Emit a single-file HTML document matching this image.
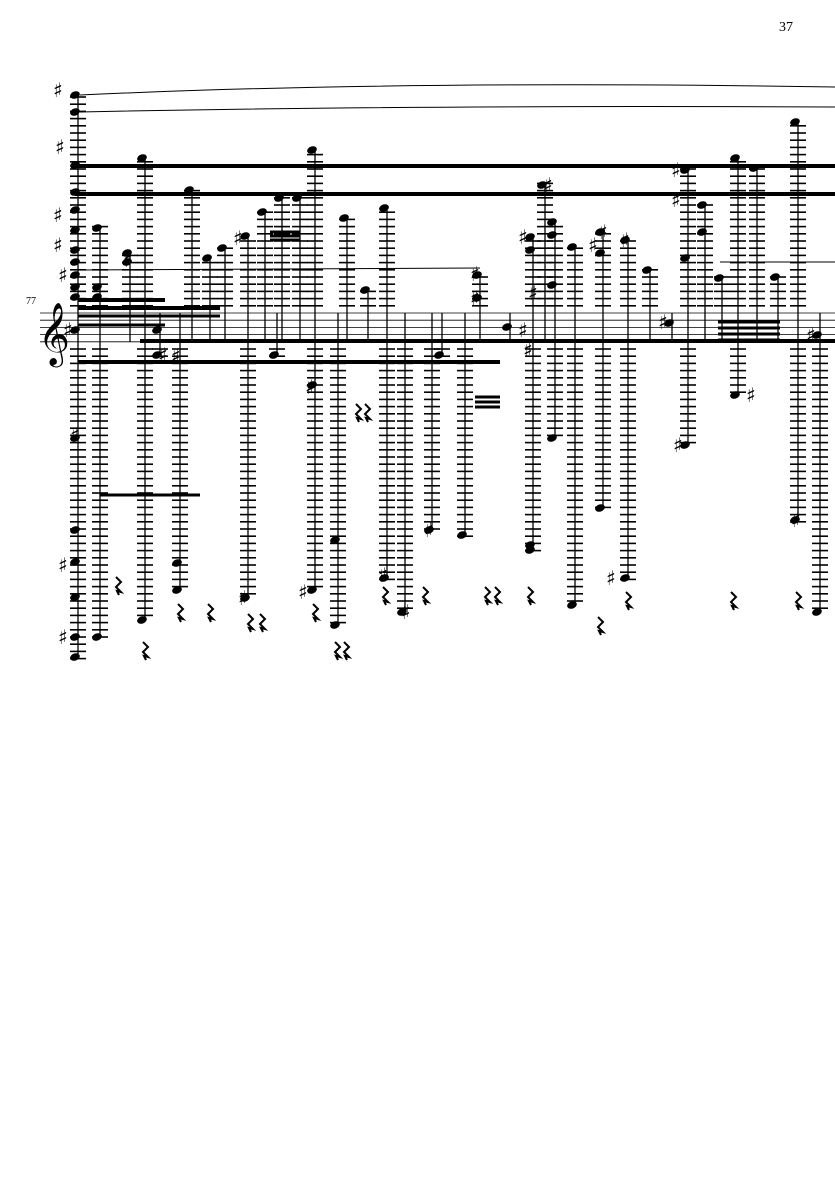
<!DOCTYPE html><html><head><style>body{margin:0;background:#fff}svg{display:block}</style></head><body>
<svg id="s" width="835" height="1181" xmlns="http://www.w3.org/2000/svg">
<text x="779" y="31" font-family="Liberation Serif,serif" font-size="14">37</text>
<text x="26" y="304" font-family="Liberation Serif,serif" font-size="10">77</text>
<text x="38" y="352" font-family="DejaVu Serif,serif" font-size="54">𝄞</text>
</svg>
<script>
(function(){
const s=document.getElementById('s');const NS='http://www.w3.org/2000/svg';
function el(t,a){const e=document.createElementNS(NS,t);for(const k in a)e.setAttribute(k,a[k]);s.appendChild(e);return e;}
function L(x1,y1,x2,y2,w){el('line',{x1,y1,x2,y2,stroke:'#000','stroke-width':w||1});}
const T=313,sp=7.2,B=T+4*sp;
for(let i=0;i<5;i++)L(40,T+i*sp,835,T+i*sp,0.8);
el('path',{d:'M80 95 Q400 80 835 87',fill:'none',stroke:'#000','stroke-width':1});
el('path',{d:'M80 112 Q400 105 835 107',fill:'none',stroke:'#000','stroke-width':1});
L(75,166,835,166,4);L(75,194,835,194,4);
L(78,362,500,362,4);L(140,341,835,341,4);
L(78,300,165,300,4);L(78,308,220,308,4);L(78,316,220,316,3);L(78,325,165,325,3);
L(100,495,200,495,3);L(270,240,300,240,3);L(270,236,300,236,3);L(270,232,300,232,3);
L(475,402,500,402,3);L(475,397,500,397,3);L(475,407,500,407,3);
L(718,322,780,322,3);L(718,328,780,328,3);L(718,334,780,334,3);L(718,340,780,340,3);
L(80,270,480,268,1);L(720,262,835,262,1);
const cols=[
[78,[95,112,165,192,210,230,250,262,275,287,297,330,438,530,562,597,637,657]],
[100,[228,287,297,637]],[130,[253,262]],[145,[158,620]],[160,[330,355]],[180,[563,590]],
[192,[190]],[210,[258]],[225,[248]],[248,[236,598]],[265,[212]],[277,[355]],[282,[198]],
[300,[198]],[315,[150,385,590]],[338,[540,625]],[347,[218]],[368,[290]],[387,[208,578]],
[405,[612]],[432,[530]],[442,[355]],[465,[535]],[480,[275,298]],[510,[327]],
[533,[237,250,545,550]],[545,[185]],[555,[222,235,285,438]],[575,[247,605]],[603,[232,253,508]],
[628,[240,578]],[650,[270]],[672,[323]],[688,[170,258,445]],[705,[205,232]],[722,[278]],
[738,[158,395]],[757,[168]],[778,[277]],[798,[122,520]],[820,[335,612]]];
cols.forEach(function(c){const x=c[0],ys=c[1];
 const mn=Math.min.apply(null,ys),mx=Math.max.apply(null,ys);
 const a=Math.min(mn,T),b=Math.max(mx,B);
 L(x,a,x,b,1.3);
 for(let y=T-sp;y>=mn-2;y-=sp)L(x-8,y,x+8,y,1.6);
 for(let y=B+sp;y<=mx+2;y+=sp)L(x-8,y,x+8,y,1.6);
 ys.forEach(function(y){el('ellipse',{cx:x-3,cy:y,rx:5,ry:3.6,transform:'rotate(-20 '+(x-3)+' '+y+')'});});
});
[[55,90],[57,147],[55,215],[55,245],[60,275],[65,330],[72,435],[60,565],[60,637],[125,260],[160,355],[235,238],[307,387],[380,575],[403,612],[472,274],[472,298],[520,237],[530,293],[520,330],[525,350],[545,185],[590,245],[600,232],[622,240],[660,322],[673,170],[673,200],[675,445],[748,395],[793,520],[808,335],[608,578],[426,530],[173,356],[240,598],[300,592]].forEach(function(p){
 el('text',{x:p[0]-2,y:p[1]+7,'font-family':'DejaVu Sans,sans-serif','font-size':'20'}).textContent='♯';});
[[118,585],[145,650],[180,612],[210,612],[250,622],[262,622],[315,612],[337,650],[346,650],[358,412],[367,412],[385,595],[425,595],[487,595],[497,595],[530,595],[600,625],[628,600],[733,600],[798,600]].forEach(function(p){const x=p[0],y=p[1];
 el('path',{d:'M'+(x-2)+' '+(y-8)+' L'+(x+3)+' '+(y-3)+' L'+(x-2)+' '+(y+2)+' L'+(x+3)+' '+(y+7)+' L'+(x-1)+' '+(y+6)+' L'+(x+1)+' '+(y+10),fill:'none',stroke:'#000','stroke-width':2});});
})();
</script>
</body></html>
